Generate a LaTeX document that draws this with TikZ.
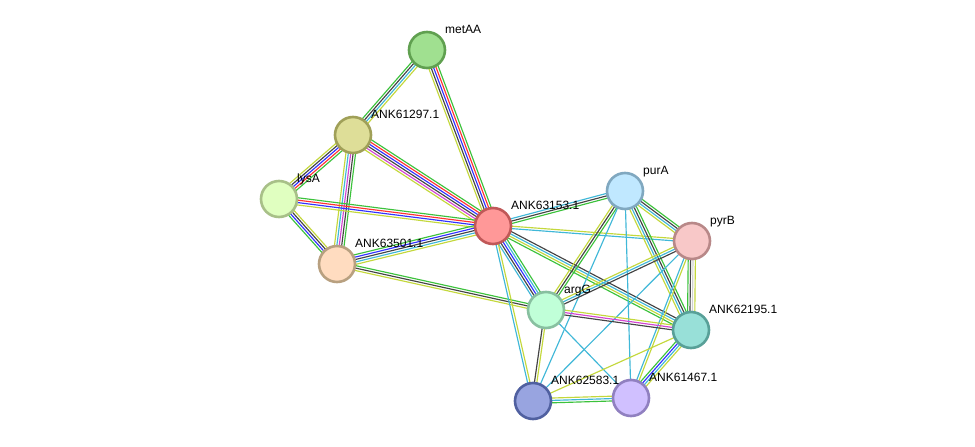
\documentclass[tikz,border=0pt]{standalone}
\usepackage{fontspec}
\setmainfont{Liberation Sans}
\usetikzlibrary{calc,backgrounds}
\pgfdeclarelayer{bottom}
\pgfsetlayers{bottom,background,main}
\definecolor{sgreen}{HTML}{3CC23C}
\definecolor{sred}{HTML}{FF3232}
\definecolor{sblue}{HTML}{3232FF}
\definecolor{sblack}{HTML}{444444}
\definecolor{smag}{HTML}{D246D2}
\definecolor{scyan}{HTML}{40B8D8}
\definecolor{syel}{HTML}{C4D83C}
\definecolor{sgray}{HTML}{D0D0D0}
\newcommand{\stredge}[3]{%
  \foreach \cc [count=\ii] in {#3} {\xdef\nlines{\ii}}%
  \foreach \cc [count=\ii] in {#3} {%
    \pgfmathsetmacro\off{(\ii-(\nlines+1)/2)*2.4}%
    \draw[\cc, edgeline] ($(#1.center)!\off pt!90:(#2.center)$) -- ($(#2.center)!\off pt!-90:(#1.center)$);
  }}
\begin{document}
\begin{tikzpicture}[x=1pt,y=-1pt,
  prot/.style={circle, minimum size=36pt, inner sep=0pt, line width=2.6pt},
  lab/.style={anchor=base west, inner sep=0pt, font=\fontsize{12}{14}\selectfont},
  edgeline/.style={line width=1.15pt}]
\useasboundingbox (0,0) rectangle (975,447);
\begin{pgfonlayer}{bottom}
\fill[white] (0,0) rectangle (975,447);
\end{pgfonlayer}
% proteins
\node[prot, fill={rgb,255:red,160;green,224;blue,144}, draw={rgb,255:red,96;green,160;blue,80}] (metAA) at (427,50) {};
\node[prot, fill={rgb,255:red,222;green,222;blue,152}, draw={rgb,255:red,160;green,160;blue,88}] (n61297) at (353,135) {};
\node[prot, fill={rgb,255:red,224;green,255;blue,192}, draw={rgb,255:red,168;green,192;blue,136}] (lysA) at (279,199) {};
\node[prot, fill={rgb,255:red,255;green,220;blue,192}, draw={rgb,255:red,184;green,160;blue,128}] (n63501) at (337,264) {};
\node[prot, fill={rgb,255:red,255;green,152;blue,152}, draw={rgb,255:red,192;green,88;blue,88}] (n63153) at (493,226) {};
\node[prot, fill={rgb,255:red,192;green,232;blue,255}, draw={rgb,255:red,128;green,168;blue,192}] (purA) at (625,191) {};
\node[prot, fill={rgb,255:red,248;green,200;blue,200}, draw={rgb,255:red,184;green,136;blue,136}] (pyrB) at (692,241) {};
\node[prot, fill={rgb,255:red,192;green,255;blue,216}, draw={rgb,255:red,136;green,192;blue,160}] (argG) at (546,310) {};
\node[prot, fill={rgb,255:red,152;green,224;blue,216}, draw={rgb,255:red,88;green,160;blue,152}] (n62195) at (691,330) {};
\node[prot, fill={rgb,255:red,152;green,164;blue,224}, draw={rgb,255:red,80;green,96;blue,160}] (n62583) at (533,401) {};
\node[prot, fill={rgb,255:red,208;green,192;blue,255}, draw={rgb,255:red,144;green,128;blue,192}] (n61467) at (631,398) {};
% edges
\begin{pgfonlayer}{background}
\stredge{metAA}{n61297}{sgreen,sblack,scyan,syel}
\stredge{metAA}{n63153}{syel,sblack,sblue,sred,sgreen}
\stredge{n61297}{n63153}{syel,smag,sblack,sblue,sred,sgreen}
\stredge{n61297}{lysA}{syel,sblack,sblue,sred,sgreen}
\stredge{n61297}{n63501}{syel,scyan,smag,sblack,sgreen}
\stredge{lysA}{n63153}{syel,sblue,sred,sgreen}
\stredge{lysA}{n63501}{sgreen,sblue,sblack,syel}
\stredge{n63501}{n63153}{syel,scyan,sblack,sblue,sgreen}
\stredge{n63501}{argG}{syel,sblack,sgreen}
\stredge{n63153}{purA}{sgreen,sblack,scyan}
\stredge{n63153}{pyrB}{scyan,syel}
\stredge{n63153}{argG}{scyan,sblack,sblue,scyan,sgreen}
\stredge{n63153}{n62583}{scyan,syel}
\stredge{n63153}{n62195}{sgreen,syel,scyan,sblack}
\stredge{purA}{pyrB}{syel,scyan,sblack,sgreen}
\stredge{purA}{argG}{syel,sblack,sgreen}
\stredge{purA}{n62195}{syel,scyan,sblack,sgreen}
\stredge{purA}{n62583}{scyan}
\stredge{purA}{n61467}{scyan}
\stredge{pyrB}{argG}{syel,scyan,sblack}
\stredge{pyrB}{n62195}{sgreen,sblack,sgray,syel}
\stredge{pyrB}{n62583}{scyan}
\stredge{pyrB}{n61467}{scyan,syel}
\stredge{argG}{n62195}{sblack,smag,syel}
\stredge{argG}{n62583}{sblack,syel}
\stredge{argG}{n61467}{scyan}
\stredge{n62195}{n62583}{syel}
\stredge{n62195}{n61467}{sgreen,sblue,scyan,syel}
\stredge{n62583}{n61467}{sgreen,scyan,syel}
\end{pgfonlayer}
% labels
\node[lab] (metAA-l) at ($(metAA.center)+(18,-17)$) {metAA};
\node[lab] (n61297-l) at ($(n61297.center)+(18,-17)$) {ANK61297.1};
\node[lab] (lysA-l) at ($(lysA.center)+(18,-17)$) {lysA};
\node[lab] (n63501-l) at ($(n63501.center)+(18,-17)$) {ANK63501.1};
\node[lab] (n63153-l) at ($(n63153.center)+(18,-17)$) {ANK63153.1};
\node[lab] (purA-l) at ($(purA.center)+(18,-17)$) {purA};
\node[lab] (pyrB-l) at ($(pyrB.center)+(18,-17)$) {pyrB};
\node[lab] (argG-l) at ($(argG.center)+(18,-17)$) {argG};
\node[lab] (n62195-l) at ($(n62195.center)+(18,-17)$) {ANK62195.1};
\node[lab] (n62583-l) at ($(n62583.center)+(18,-17)$) {ANK62583.1};
\node[lab] (n61467-l) at ($(n61467.center)+(18,-17)$) {ANK61467.1};
\end{tikzpicture}
\end{document}
